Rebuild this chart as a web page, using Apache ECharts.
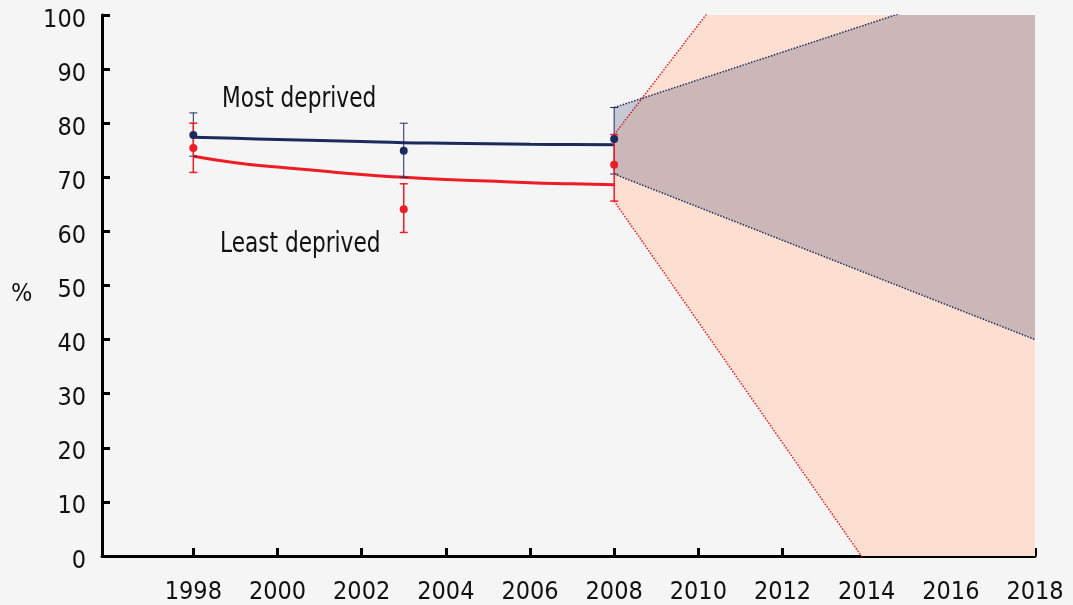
<!DOCTYPE html>
<html>
<head>
<meta charset="utf-8">
<title>Most / least deprived</title>
<script src="https://cdn.jsdelivr.net/npm/echarts@6/dist/echarts.min.js"></script>
<style>
  html, body { margin: 0; padding: 0; background: #f5f5f5; }
  #chart { width: 1073px; height: 605px; }
</style>
</head>
<body>
<div id="chart"></div>
<script>
// 数据
var years = [1998, 2003, 2008];
var mostVals = [77.8, 74.9, 77.1];
var mostLow = [73.9, 70.0, 70.6];
var mostHigh = [81.9, 80.0, 82.9];
var leastVals = [75.4, 64.1, 72.3];
var leastLow = [70.9, 59.8, 65.6];
var leastHigh = [80.0, 68.8, 77.9];

// 趋势线
var fitYears = [1998, 1999, 2000, 2001, 2002, 2003, 2004, 2005, 2006, 2007, 2008];
var mostFit = [77.4, 77.2, 77.0, 76.8, 76.6, 76.4, 76.3, 76.2, 76.1, 76.05, 76.0];
var leastFit = [73.9, 72.7, 71.9, 71.2, 70.5, 70.0, 69.6, 69.3, 69.0, 68.8, 68.6];

// 预测区间 (2008 -> 2018)
var coneYears = [2008, 2018];
var mostConeLow = [70.6, 40.0];
var mostConeHigh = [82.9, 108.5];
var leastConeLow = [65.6, -46.1];
var leastConeHigh = [77.9, 179.3];

var xTicks = [1998, 2000, 2002, 2004, 2006, 2008, 2010, 2012, 2014, 2016, 2018];

var NAVY = '#1b2b5e';
var RED = '#ee1c25';
var FONT = "'DejaVu Sans Condensed', 'Liberation Sans Narrow', 'DejaVu Sans', sans-serif";

function pairs(xs, ys) {
  return xs.map(function (x, i) { return [x, ys[i]]; });
}

// 区间面积 (多边形)
function cone(lo, hi, color, z) {
  return {
    type: 'custom',
    z: z,
    clip: true,
    data: coneYears.map(function (x, i) { return [x, lo[i], hi[i]]; }),
    renderItem: function (params, api) {
      var i = params.dataIndexInside;
      if (i >= params.dataInsideLength - 1) return;
      var a = api.coord([api.value(0, i), api.value(1, i)]);
      var b = api.coord([api.value(0, i + 1), api.value(1, i + 1)]);
      var c = api.coord([api.value(0, i + 1), api.value(2, i + 1)]);
      var d = api.coord([api.value(0, i), api.value(2, i)]);
      return {
        type: 'polygon',
        shape: { points: [a, b, c, d] },
        style: { fill: color }
      };
    }
  };
}

function edge(lo, color, z) {
  return {
    type: 'line', z: z, symbol: 'none',
    data: pairs(coneYears, lo),
    lineStyle: { color: color, width: 1.5, type: 'dotted' }
  };
}

// 误差线
function errorBars(lo, hi, color, width) {
  return {
    type: 'custom',
    z: 5,
    data: years.map(function (y, i) { return [y, lo[i], hi[i]]; }),
    renderItem: function (params, api) {
      var p1 = api.coord([api.value(0), api.value(1)]);
      var p2 = api.coord([api.value(0), api.value(2)]);
      var w = 4;
      var style = { stroke: color, lineWidth: width };
      return {
        type: 'group',
        children: [
          { type: 'line', shape: { x1: p1[0], y1: p1[1], x2: p2[0], y2: p2[1] }, style: style },
          { type: 'line', shape: { x1: p1[0] - w, y1: p1[1], x2: p1[0] + w, y2: p1[1] }, style: style },
          { type: 'line', shape: { x1: p2[0] - w, y1: p2[1], x2: p2[0] + w, y2: p2[1] }, style: style }
        ]
      };
    }
  };
}

var chart = echarts.init(document.getElementById('chart'));

var option = {
  backgroundColor: '#f5f5f5',
  animation: false,
  grid: { left: 102, right: 38, top: 15, bottom: 49, containLabel: false },
  xAxis: {
    type: 'value',
    min: 1995.83,
    max: 2018,
    axisLine: { show: true, lineStyle: { color: '#000', width: 3 } },
    axisTick: { show: true, inside: true, length: 8, customValues: xTicks, lineStyle: { color: '#000', width: 3 } },
    axisLabel: {
      customValues: xTicks, margin: 24, fontSize: 25, color: '#111', fontFamily: FONT,
      formatter: function (v) { return String(v); }
    },
    splitLine: { show: false }
  },
  yAxis: {
    type: 'value',
    min: 0,
    max: 100,
    interval: 10,
    axisLine: { show: true, lineStyle: { color: '#000', width: 3 } },
    axisTick: { show: true, inside: true, length: 8, lineStyle: { color: '#000', width: 3 } },
    axisLabel: {
      margin: 16, fontSize: 25, color: '#111', fontFamily: FONT,
      verticalAlign: 'top', lineHeight: 10
    },
    splitLine: { show: false }
  },
  graphic: [
    { type: 'text', x: 222, y: 85, scaleX: 0.83, style: { text: 'Most deprived', font: '29px ' + FONT, fill: '#111' } },
    { type: 'text', x: 220, y: 230, scaleX: 0.83, style: { text: 'Least deprived', font: '29px ' + FONT, fill: '#111' } },
    { type: 'text', x: 11, y: 282, style: { text: '%', font: '25px ' + FONT, fill: '#111' } }
  ],
  series: [
    // 预测区间
    cone(leastConeLow, leastConeHigh, '#fcdfd0', 1),
    edge(leastConeLow, RED, 2),
    edge(leastConeHigh, RED, 2),
    cone(mostConeLow, mostConeHigh, 'rgba(30,40,95,0.22)', 3),
    edge(mostConeLow, NAVY, 3),
    edge(mostConeHigh, NAVY, 3),
    // 趋势线
    {
      type: 'line', z: 4, smooth: true, symbol: 'none',
      data: pairs(fitYears, mostFit),
      lineStyle: { color: NAVY, width: 3 }
    },
    {
      type: 'line', z: 4, smooth: true, symbol: 'none',
      data: pairs(fitYears, leastFit),
      lineStyle: { color: RED, width: 3 }
    },
    errorBars(mostLow, mostHigh, NAVY, 1),
    errorBars(leastLow, leastHigh, RED, 1.5),
    // 数据点
    {
      type: 'scatter', z: 6, symbolSize: 8,
      data: pairs(years, mostVals),
      itemStyle: { color: NAVY, opacity: 1 }
    },
    {
      type: 'scatter', z: 6, symbolSize: 8,
      data: pairs(years, leastVals),
      itemStyle: { color: RED, opacity: 1 }
    }
  ]
};

chart.setOption(option);
</script>
</body>
</html>
